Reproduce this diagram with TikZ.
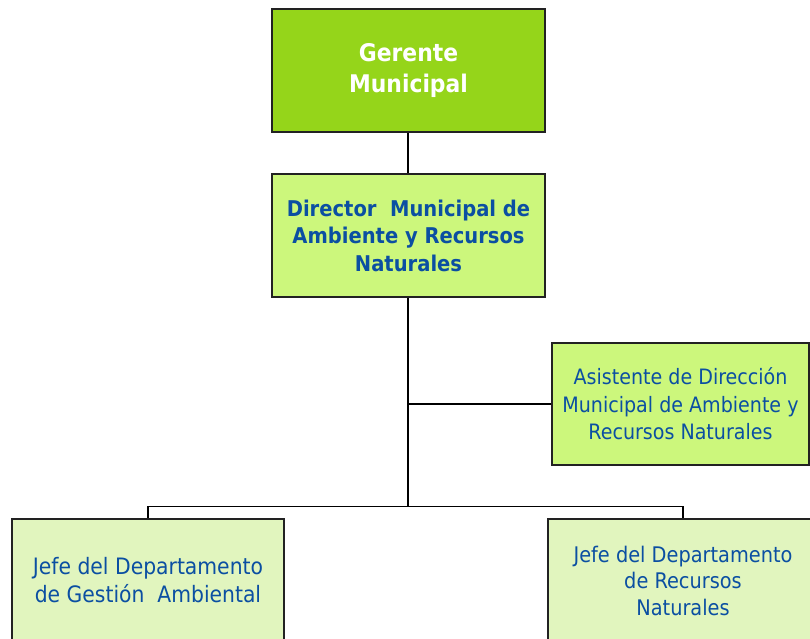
\documentclass[tikz,border=0pt]{standalone}
\usepackage{fontspec}
\setmainfont{DejaVu Sans Condensed}
\definecolor{gerfill}{HTML}{95D51A}
\definecolor{dirfill}{HTML}{CCF77C}
\definecolor{jefefill}{HTML}{E1F5BE}
\definecolor{txtblue}{HTML}{0B4FA2}
\definecolor{edge}{HTML}{222222}
\tikzset{
  box/.style={draw=edge, line width=2pt, rectangle, inner sep=0pt, align=center,
    text=txtblue, font=\fontsize{21.2pt}{27.5pt}\selectfont},
  conn/.style={draw=black, line width=1.6pt}
}
\begin{document}
\begin{tikzpicture}[x=1pt,y=1pt]
\useasboundingbox (0,0) rectangle (810,-638);
\clip (0,0) rectangle (810,-638);
\fill[white] (0,0) rectangle (810,-638);
\node[box, fill=gerfill, minimum width=273pt, minimum height=123pt, text=white,
  font=\fontsize{24.3pt}{31pt}\selectfont\bfseries] (ger) at (408.5,-70.5) {Gerente\\Municipal};
\node[box, fill=dirfill, minimum width=273pt, minimum height=123pt,
  font=\fontsize{21.7pt}{27.5pt}\selectfont\bfseries] (dir) at (408.5,-235.5)
  {Director~ Municipal de\\Ambiente y Recursos\\Naturales};
\node[box, fill=dirfill, minimum width=257pt, minimum height=122pt] (asi) at (680.5,-404)
  {Asistente de Dirección\\Municipal de Ambiente y\\Recursos Naturales};
\node[box, fill=jefefill, minimum width=272pt, minimum height=123pt,
  font=\fontsize{22.6pt}{28pt}\selectfont] (jga) at (148,-580.5)
  {Jefe del Departamento\\de Gestión~ Ambiental};
\node[box, fill=jefefill, minimum width=270pt, minimum height=123pt,
  font=\fontsize{21.5pt}{26.5pt}\selectfont] (jrn) at (683,-580.5)
  {Jefe del Departamento\\de Recursos\\Naturales};
\coordinate (bus) at (408,-506.5);
\draw[conn] (ger.south -| 408,0) -- (dir.north -| 408,0);
\draw[conn] (dir.south -| 408,0) -- (bus);
\draw[conn] (asi.west) -- (asi.west -| 408,0);
\draw[conn] (jga.north) -- (jga.north |- bus) -- (jrn.north |- bus) -- (jrn.north);
\end{tikzpicture}
\end{document}
